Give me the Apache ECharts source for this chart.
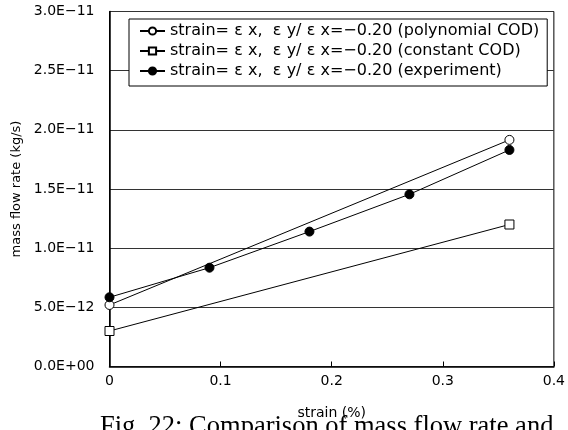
<!DOCTYPE html>
<html>
<head>
<meta charset="utf-8">
<script src="https://cdn.jsdelivr.net/npm/echarts@6/dist/echarts.min.js"></script>
<style>
  html, body { margin: 0; padding: 0; background: #fff; }
  #chart { width: 568px; height: 430px; }
</style>
</head>
<body>
<div id="chart"></div>
<script>
// Mass flow rate versus applied strain, three cases
const seriesNames = [
  'strain=εx, εy/εx=−0.20 (polynomial COD)',
  'strain=εx, εy/εx=−0.20 (constant COD)',
  'strain=εx, εy/εx=−0.20 (experiment)'
];
const polynomialStrain = [0, 0.36];
const polynomialFlow = [5.2e-12, 1.915e-11];
const constantStrain = [0, 0.36];
const constantFlow = [3.0e-12, 1.2e-11];
const experimentStrain = [0, 0.09, 0.18, 0.27, 0.36];
const experimentFlow = [5.85e-12, 8.35e-12, 1.14e-11, 1.455e-11, 1.83e-11];
const xTicks = [0, 0.1, 0.2, 0.3, 0.4];
const yTicks = [0, 5e-12, 1e-11, 1.5e-11, 2e-11, 2.5e-11, 3e-11];
const captionText = 'Fig. 22: Comparison of mass flow rate and';

const FONT = '"DejaVu Sans", "Noto Sans", sans-serif';
const LEGEND_SIZE = 16;

function pairs(xs, ys) {
  return xs.map((x, i) => [x, ys[i]]);
}

// "2.5E−11" style scientific labels
function sciLabel(v) {
  if (Math.abs(v) < 1e-20) return '0.0E+00';
  const s = v.toExponential(1);
  const [m, e] = s.split('e');
  const n = parseInt(e, 10);
  const sign = n < 0 ? '−' : '+';
  const mag = String(Math.abs(n)).padStart(2, '0');
  return m + 'E' + sign + mag;
}

const chart = echarts.init(document.getElementById('chart'), null, { renderer: 'canvas' });

const lineStyle = { color: '#000', width: 1 };

chart.setOption({
  animation: false,
  backgroundColor: '#fff',
  grid: {
    left: 109.5, right: 11, top: 11.5, bottom: 63.5,
    show: true, borderColor: '#000', borderWidth: 1, backgroundColor: 'transparent'
  },
  legend: {
    orient: 'vertical',
    left: 129, top: 19,
    padding: [4, 8, 7, 10],
    itemGap: 4,
    itemWidth: 25, itemHeight: 9,
    backgroundColor: '#fff',
    borderColor: '#000', borderWidth: 1, borderRadius: 0,
    // full-width epsilon cells
    formatter: name => name.replace(/ε/g, '{e|ε}'),
    textStyle: {
      fontFamily: FONT, fontSize: LEGEND_SIZE, color: '#000',
      rich: {
        e: { fontFamily: FONT, fontSize: LEGEND_SIZE, color: '#000', width: 19, align: 'center' }
      }
    },
    data: seriesNames
  },
  xAxis: {
    type: 'value',
    min: xTicks[0], max: xTicks[xTicks.length - 1], interval: 0.1,
    name: 'strain (%)',
    nameLocation: 'middle', nameGap: 40,
    nameTextStyle: { fontFamily: FONT, fontSize: 14, color: '#000' },
    axisLine: { show: true, lineStyle: { color: '#000', width: 1.5 } },
    axisTick: { show: true, inside: true, length: 5, lineStyle: { color: '#000' } },
    axisLabel: {
      fontFamily: FONT, fontSize: 14, color: '#000', margin: 8,
      formatter: v => (Math.abs(v) < 1e-9 ? '0' : String(+v.toFixed(1)))
    },
    splitLine: { show: false }
  },
  yAxis: {
    type: 'value',
    min: yTicks[0], max: yTicks[yTicks.length - 1], interval: 5e-12,
    name: 'mass flow rate (kg/s)',
    nameLocation: 'middle', nameGap: 78,
    nameTextStyle: { fontFamily: FONT, fontSize: 13, color: '#000' },
    axisLine: { show: true, lineStyle: { color: '#000', width: 1.5 } },
    axisTick: { show: false },
    axisLabel: { fontFamily: FONT, fontSize: 14, color: '#000', margin: 15, formatter: sciLabel },
    splitLine: { show: true, lineStyle: { color: '#333', width: 1 } }
  },
  series: [
    {
      name: seriesNames[0], type: 'line',
      data: pairs(polynomialStrain, polynomialFlow),
      symbol: 'circle', symbolSize: 9,
      lineStyle: lineStyle,
      itemStyle: { color: '#fff', borderColor: '#000', borderWidth: 1 },
      z: 3
    },
    {
      name: seriesNames[1], type: 'line',
      data: pairs(constantStrain, constantFlow),
      symbol: 'rect', symbolSize: 9,
      lineStyle: lineStyle,
      itemStyle: { color: '#fff', borderColor: '#000', borderWidth: 1 },
      z: 3
    },
    {
      name: seriesNames[2], type: 'line',
      data: pairs(experimentStrain, experimentFlow),
      symbol: 'circle', symbolSize: 9,
      lineStyle: lineStyle,
      itemStyle: { color: '#000', borderColor: '#000', borderWidth: 1 },
      z: 4
    }
  ],
  graphic: [
    {
      type: 'text', left: 100, top: 414,
      style: { text: captionText, font: '26.5px "Liberation Serif", serif', fill: '#000' }
    }
  ]
});
</script>
</body>
</html>
